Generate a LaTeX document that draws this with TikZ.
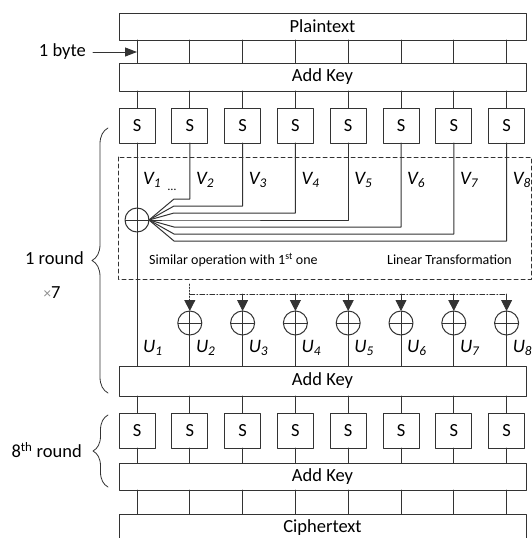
\documentclass[tikz,border=0pt]{standalone}
\usepackage{fontspec}
\setmainfont{Carlito}
\usetikzlibrary{positioning,arrows.meta,decorations.pathreplacing}
\definecolor{FigureLine}{HTML}{333333}
\definecolor{FigureGrey}{HTML}{8C8C8C}

\tikzset{
  bar/.style={draw=FigureLine,line width=1pt,minimum width=407pt,minimum height=28pt,inner sep=0pt,outer sep=0pt,font=\fontsize{18.5}{20}\selectfont},
  sbox/.style={draw=FigureLine,line width=1pt,minimum width=36pt,minimum height=35pt,inner sep=0pt,outer sep=0pt,font=\fontsize{18.5}{20}\selectfont},
  xorgate/.style={circle,draw=FigureLine,line width=1pt,minimum size=24pt,inner sep=0pt,outer sep=0pt,
    path picture={\draw[FigureLine,line width=1pt] (path picture bounding box.north) -- (path picture bounding box.south)
      (path picture bounding box.west) -- (path picture bounding box.east);}},
  wire/.style={FigureLine,line width=1pt},
  feed/.style={-{Triangle[length=11pt,width=11pt]}},
  varlabel/.style={anchor=west,inner sep=0pt,font=\fontsize{19}{21}\selectfont\itshape},
  sidelabel/.style={anchor=east,inner sep=0pt,font=\fontsize{18.5}{20}\selectfont},
  smalltext/.style={inner sep=0pt,font=\fontsize{14}{16}\selectfont},
}

\begin{document}
\begin{tikzpicture}[x=1pt,y=-1pt,line cap=round,line join=round]
  \useasboundingbox (0,0) rectangle (532,538);
  % full-width blocks
  \node[bar,minimum height=27pt] (plain) at (322.5,26.5) {Plaintext};
  \node[bar] (key0) at (322.5,77) {Add Key};
  \node[bar,minimum height=30pt] (key1) at (322.5,381) {Add Key};
  \node[bar,minimum height=27pt] (key2) at (322.5,476.5) {Add Key};
  \node[bar,minimum height=27pt] (cipher) at (322.5,527.5) {Ciphertext};
  \foreach \k in {1,...,8}{
    \pgfmathsetmacro\cx{137+52.8*(\k-1)}
    \node[sbox] (sa\k) at (\cx,125.5) {S};
    \node[sbox] (sb\k) at (\cx,430.5) {S};
    \draw[wire] (plain.south -| sa\k) -- (key0.north -| sa\k);
    \draw[wire] (key0.south -| sa\k) -- (sa\k.north);
    \draw[wire] (key1.south -| sb\k) -- (sb\k.north);
    \draw[wire] (sb\k.south) -- (key2.north -| sb\k);
    \draw[wire] (key2.south -| sb\k) -- (cipher.north -| sb\k);
    \node[varlabel] (v\k) at (\cx+6,180) {V\textsubscript{\k}};
    \node[varlabel] (u\k) at (\cx+6,348) {U\textsubscript{\k}};
  }
  \node[smalltext] (dots) at (172,190) {\fontsize{12}{14}\selectfont …};
  % linear transformation
  \draw[FigureLine,line width=1pt,dash pattern=on 4pt off 3pt] (118,157) rectangle (531,279);
  \node[xorgate] (x1) at (sa1 |- 0,220) {};
  \draw[wire] (sa1.south) -- (x1.north);
  \draw[wire] (x1.south) -- (key1.north -| x1);
  \foreach \k in {2,...,8}{
    \pgfmathsetmacro\fy{199+7*(\k-2)}
    \draw[wire] (sa\k.south) |- (174,\fy) -- (x1.east);
  }
  \node[smalltext,anchor=west] (similar) at (149,260) {Similar operation with 1\textsuperscript{st} one};
  \node[smalltext,anchor=east] (lintrans) at (512,260) {Linear Transformation};
  % feeding the other bytes
  \coordinate (feedtop) at (sa2 |- 0,284);
  \coordinate (bus) at (0,294);
  \foreach \k in {2,...,8}{
    \node[xorgate] (y\k) at (sa\k |- 0,323) {};
    \draw[wire] (y\k.south) -- (key1.north -| y\k);
  }
  \draw[wire,line width=0.8pt,dash pattern=on 1.5pt off 1.5pt,feed] (feedtop) -- (y2.north);
  \draw[wire,line width=0.8pt,dash pattern=on 5pt off 2pt on 1pt off 2pt] (y2.north |- bus) -- (y8.north |- bus);
  \foreach \k in {3,...,8}
    \draw[wire,line width=0.8pt,feed] (y\k.north |- bus) -- (y\k.north);
  % side notes
  \node[sidelabel] (byte) at (86,52) {1 byte};
  \coordinate (bytein) at (plain.south -| sa1);
  \draw[wire,-{Triangle[length=12pt,width=9pt]},shorten <=7pt] (byte.east) -- (bytein |- byte.east);
  \draw[FigureLine,line width=0.8pt,decorate,decoration={brace,amplitude=16pt}] (108,393) -- (108,128);
  \node[sidelabel] (round) at (84,258) {1 round};
  \node[smalltext,font=\fontsize{18.5}{20}\selectfont] (times) at (52,293) {{\color{FigureGrey}\fontsize{15}{16}\selectfont ×}7};
  \draw[FigureLine,line width=0.8pt,decorate,decoration={brace,amplitude=15pt}] (108,487) -- (108,415);
  \node[sidelabel] (last) at (82,450) {8\textsuperscript{th} round};
\end{tikzpicture}
\end{document}
